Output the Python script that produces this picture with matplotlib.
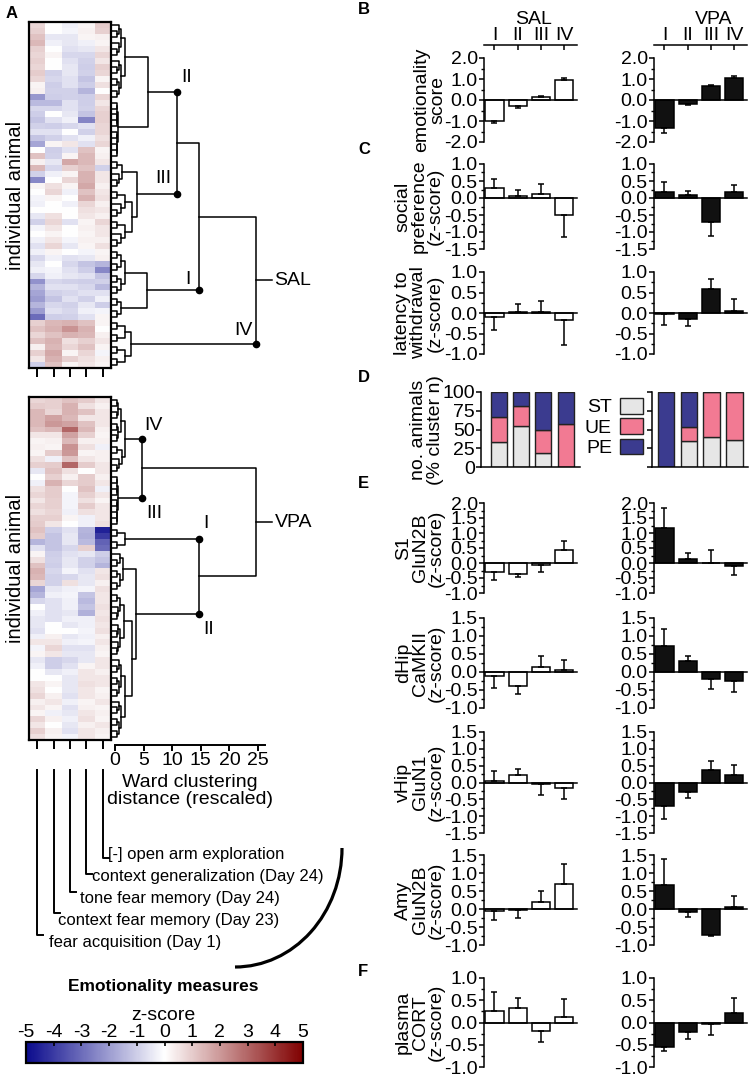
import numpy as np
import matplotlib.pyplot as plt
from matplotlib.colors import LinearSegmentedColormap
from matplotlib.ticker import FormatStrFormatter, FixedLocator
from matplotlib.patches import Arc

plt.rcParams['font.family'] = ['Liberation Sans', 'DejaVu Sans']
plt.rcParams['axes.unicode_minus'] = False

W, H = 749, 1079
TICK_FS = 14
LAB_FS = 14

clusters = ['I', 'II', 'III', 'IV']
measures = ['fear acquisition (Day 1)', 'context fear memory (Day 23)',
            'tone fear memory (Day 24)', 'context generalization (Day 24)',
            '[-] open arm exploration']

# z-scores per animal (rows, dendrogram order) x 5 emotionality measures
sal_heat = [
    [0.8, 0.0, -0.3, 0.2, 1.0], [0.9, 0.0, -0.2, 0.3, 0.9], [1.2, -0.5, -0.5, 0.2, 0.3],
    [1.4, -0.3, -0.5, -0.3, 0.2], [0.9, 0.0, -0.6, -0.5, 0.5], [0.8, 0.2, -0.8, -0.8, 0.8],
    [0.9, 0.0, -0.6, -0.9, 0.5], [0.8, 0.0, -0.5, -1.0, 0.9], [1.0, -0.9, -0.5, -0.9, 0.8],
    [0.8, -0.8, -0.6, -1.2, 0.2], [0.2, -1.0, -0.6, -1.0, 0.6], [0.3, -0.9, -0.9, -1.5, 0.0],
    [-2.1, -1.0, -0.9, -1.0, 0.8], [-1.4, -1.4, -0.6, -1.0, 0.5], [-0.8, -0.8, -0.6, -0.9, 0.8],
    [-1.0, 0.0, -0.5, -1.2, 0.9], [-1.2, -0.6, -0.3, -2.5, 0.9], [-0.9, -1.0, -0.8, -0.6, 0.8],
    [-0.6, -0.6, 0.0, -0.9, 0.8], [-1.2, -0.9, -0.6, -0.3, 0.6], [-1.8, 0.2, 0.5, -0.6, 0.8],
    [0.0, -1.0, -0.6, 1.2, 0.2], [1.2, -0.9, 0.2, 1.4, 0.3], [0.3, -0.5, 1.7, 1.4, 0.5],
    [1.4, -0.8, 0.9, 1.2, -0.9], [-0.9, -0.3, 0.2, 1.5, 0.5], [-2.4, 0.0, 0.8, 1.5, 0.5],
    [0.2, 0.6, 0.2, 1.7, 0.3], [0.0, 0.8, -0.3, 1.2, 0.5], [-0.2, 0.2, 0.0, 1.5, 0.6],
    [-0.3, 0.0, -0.3, 0.8, 0.3], [0.0, 0.0, 0.0, 0.6, 0.5], [-0.5, 0.6, 0.0, 0.5, 0.3],
    [-0.9, 0.8, -0.6, 0.2, 0.8], [-0.2, 0.5, 0.0, 0.3, 0.5], [0.0, 0.2, 0.0, 0.2, 0.5],
    [-0.3, 0.5, -0.2, 0.3, 0.3], [-0.6, 0.8, -0.5, 0.2, 0.6], [-0.3, 0.2, 0.0, -0.2, 0.2],
    [-0.8, -0.3, -0.6, -0.5, 0.3], [-0.5, 0.0, -0.8, -1.2, -1.5], [-0.3, -0.2, -0.6, -1.0, -2.4],
    [-0.8, -0.3, -0.5, -0.6, -1.2], [-2.2, -0.8, -0.9, -1.0, -0.9], [-1.5, -0.6, -0.6, -0.8, -1.4],
    [-1.8, -0.9, -0.8, -0.6, -0.6], [-2.0, -1.2, -0.6, -0.9, -0.3], [-1.5, -0.8, -0.9, -0.5, -1.0],
    [-2.0, -0.6, -0.8, -0.3, -0.2], [-3.0, -1.0, -0.9, -0.6, 0.2], [0.9, 1.4, 1.5, 1.2, 0.2],
    [1.2, 1.5, 2.1, 1.5, 0.0], [0.8, 1.2, 1.5, 1.4, 0.3], [1.2, 1.5, 0.6, 0.9, 0.5],
    [0.3, 1.4, 0.8, 1.2, 0.2], [0.9, 1.7, 0.2, 0.8, -0.2], [0.5, 1.5, 0.9, 0.6, 0.3],
    [-1.0, 1.2, 0.2, 0.5, 0.2],
]
vpa_heat = [
    [0.8, 0.9, 1.2, 1.0, 0.5], [1.0, 0.9, 1.5, 0.6, 0.3], [1.4, 0.8, 1.5, 1.2, 0.5],
    [1.4, 1.8, 1.4, 0.5, 0.5], [1.4, 2.0, 1.8, 1.2, 0.5], [1.2, 1.4, 3.0, 1.4, 0.3],
    [0.5, 0.5, 1.8, 0.9, 0.2], [0.2, 0.3, 1.4, 0.3, 0.3], [0.3, 0.2, 2.1, 0.6, -0.3],
    [0.2, 1.0, 2.0, 0.2, 0.3], [0.6, -0.3, 1.2, 0.5, 0.3], [0.9, 1.0, 3.0, 1.0, 0.5],
    [-0.5, 1.2, 0.6, 0.0, 0.5], [0.0, 0.9, 0.3, 1.0, 0.3], [-0.3, 1.5, 0.8, 1.0, 0.5],
    [0.6, 1.0, 0.0, 1.2, -0.3], [0.8, 1.0, -0.2, 0.9, 0.5], [0.5, 0.9, -0.2, 0.6, 0.2],
    [0.8, 0.9, -0.2, 1.0, 0.5], [0.6, 0.8, -0.3, 0.6, 0.5], [0.9, 0.9, 0.2, -0.3, 0.5],
    [1.0, 0.5, 0.0, -0.3, 0.6], [1.2, -1.0, -0.6, -1.5, -4.5], [1.0, -1.2, -0.5, -1.6, -4.0],
    [-1.5, -1.2, -0.5, -1.4, -3.2], [-0.6, -1.2, -0.8, 0.9, -3.0], [0.2, -1.0, -0.6, -0.5, -1.0],
    [0.6, -0.9, -0.5, -0.9, -1.2], [1.2, -1.0, -0.5, -0.9, -1.5], [1.5, -0.8, -0.2, -0.6, 0.5],
    [1.4, -0.9, -0.8, -0.5, 0.6], [0.8, -0.9, 0.6, -0.5, 0.3], [-1.8, -0.5, -0.3, -0.2, 0.6],
    [-1.5, -0.3, -0.2, -1.2, 0.5], [-0.8, -0.6, -0.3, -1.4, 0.5], [0.0, -0.6, -0.3, -1.2, 0.6],
    [-0.3, -0.6, -0.5, -1.6, 0.5], [-0.5, -0.6, -0.3, -0.3, 0.6], [-0.5, 0.0, -0.5, -0.3, 0.5],
    [-0.6, 0.0, 0.0, -0.2, 0.6], [-0.3, 0.3, -0.5, -0.3, 0.3], [0.5, 0.5, -0.3, -0.2, 0.5],
    [-0.2, 0.8, -0.6, -0.6, 0.3], [0.2, 0.5, -0.5, -0.5, 0.2], [-0.5, -1.0, -0.8, -0.5, 0.5],
    [-0.3, -1.0, -0.6, 0.2, 0.5], [0.0, -0.5, -0.3, 0.5, 0.3], [0.0, 0.0, -0.5, 0.5, 0.5],
    [0.5, 0.2, -0.5, 0.6, 0.5], [0.6, 0.0, -0.5, 0.5, 0.2], [0.8, 0.3, -0.6, 0.5, 0.3],
    [0.3, 0.5, -0.3, 0.2, 0.5], [0.5, 0.2, -0.6, 0.3, 0.2], [0.2, -0.3, -0.5, 0.5, 0.3],
    [0.8, 0.3, -0.3, 0.6, 0.2], [0.5, 0.0, -0.5, 0.3, 0.5], [0.9, 0.3, -0.6, 0.5, 0.3],
    [0.6, 0.2, -0.2, 0.5, 0.2],
]

# dendrogram: leaf blocks (first row, last row + 1, merge distance) and joins
sal_blocks = [(0, 13, 1.7), (13, 23, 0.5), (23, 28, 1.3), (28, 38, 3.0),
              (38, 46, 1.7), (46, 50, 1.0), (50, 58, 2.8)]
sal_joins = {'II': 5.8, 'III': 3.8, 'I': 5.6, 'II+III': 10.8, 'I+II+III': 14.7, 'all': 24.7}
vpa_blocks = [(0, 8, 1.0), (8, 13, 1.2), (13, 22, 0.5), (22, 26, 1.7),
              (26, 33, 1.4), (33, 44, 1.6), (44, 58, 1.7)]
vpa_joins = {'IV': 1.7, 'IIb': 3.0, 'II': 3.7, 'III+IV': 4.7, 'I+II': 14.7, 'all': 24.7}

# bar data: means and SEM per cluster I-IV
emo_sal, emo_sal_sem = [-1.0, -0.3, 0.15, 0.95], [0.1, 0.06, 0.05, 0.1]
emo_vpa, emo_vpa_sem = [-1.35, -0.2, 0.65, 1.05], [0.2, 0.05, 0.05, 0.1]
soc_sal, soc_sal_sem = [0.3, 0.05, 0.12, -0.5], [0.25, 0.2, 0.28, 0.65]
soc_vpa, soc_vpa_sem = [0.18, 0.08, -0.7, 0.18], [0.28, 0.14, 0.42, 0.2]
lat_sal, lat_sal_sem = [-0.1, 0.02, 0.03, -0.18], [0.32, 0.21, 0.27, 0.6]
lat_vpa, lat_vpa_sem = [-0.03, -0.15, 0.58, 0.05], [0.27, 0.17, 0.24, 0.28]
s1_sal, s1_sal_sem = [-0.3, -0.38, -0.05, 0.45], [0.25, 0.1, 0.25, 0.27]
s1_vpa, s1_vpa_sem = [1.18, 0.15, 0.0, -0.1], [0.67, 0.2, 0.42, 0.3]
dhip_sal, dhip_sal_sem = [-0.1, -0.4, 0.15, 0.05], [0.35, 0.2, 0.3, 0.28]
dhip_vpa, dhip_vpa_sem = [0.72, 0.3, -0.2, -0.25], [0.48, 0.15, 0.28, 0.3]
vhip_sal, vhip_sal_sem = [0.05, 0.22, -0.05, -0.15], [0.3, 0.18, 0.33, 0.35]
vhip_vpa, vhip_vpa_sem = [-0.7, -0.28, 0.38, 0.22], [0.38, 0.17, 0.27, 0.3]
amy_sal, amy_sal_sem = [-0.05, -0.03, 0.2, 0.7], [0.25, 0.22, 0.3, 0.55]
amy_vpa, amy_vpa_sem = [0.68, -0.08, -0.72, 0.05], [0.7, 0.14, 0.04, 0.3]
cort_sal, cort_sal_sem = [0.25, 0.32, -0.2, 0.12], [0.43, 0.23, 0.23, 0.4]
cort_vpa, cort_vpa_sem = [-0.55, -0.22, -0.03, 0.22], [0.1, 0.16, 0.25, 0.33]

# % of cluster n per coping style
st_sal, ue_sal, pe_sal = [33.3, 54.5, 18.8, 0], [33.3, 27.3, 31.2, 57.1], [33.4, 18.2, 50.0, 42.9]
st_vpa, ue_vpa, pe_vpa = [0, 35.3, 40.0, 36.4], [0, 17.6, 60.0, 63.6], [100, 47.1, 0, 0]

fig = plt.figure(figsize=(W / 100, H / 100), dpi=100)


def add_px(x0, y0, x1, y1):
    return fig.add_axes([x0 / W, 1 - y1 / H, (x1 - x0) / W, (y1 - y0) / H])


ov = add_px(0, 0, W, H)
ov.set_xlim(0, W)
ov.set_ylim(H, 0)
ov.axis('off')

cmap = LinearSegmentedColormap.from_list('zs', [(0.04, 0.04, 0.55), (1, 1, 1), (0.5, 0, 0)])

LEAF_X = -0.6
PX_PER_UNIT = 5.72
D0 = 115


def block(lo, hi, top):
    if hi - lo == 1:
        return lo
    if hi - lo == 2:
        return (lo, lo + 1, 0.3)
    mid = (lo + hi) // 2
    sub = max(0.3, top * 0.6)
    return (block(lo, mid, sub), block(mid, hi, sub), top)


def ypos(node):
    if isinstance(node, int):
        return node + 0.5
    return (ypos(node[0]) + ypos(node[1])) / 2


def draw_tree(ax, node):
    if isinstance(node, int):
        return node + 0.5, LEAF_X
    y1, x1 = draw_tree(ax, node[0])
    y2, x2 = draw_tree(ax, node[1])
    h = node[2]
    ax.plot([x1, h, h, x2], [y1, y1, y2, y2], color='k', lw=1.1, clip_on=False)
    return (y1 + y2) / 2, h


def heat_block(y0, y1, data, root, cuts, name):
    arr = np.array(data)
    n = arr.shape[0]
    ax = add_px(29, y0, 111, y1)
    ax.imshow(arr, cmap=cmap, vmin=-5, vmax=5, aspect='auto', interpolation='nearest',
              extent=(0, 5, n, 0))
    ax.set_xlim(0, 5)
    ax.set_ylim(n, 0)
    ax.set_xticks(np.arange(5) + 0.5)
    ax.set_xticklabels([])
    ax.set_yticks([])
    ax.tick_params(axis='x', length=6.5, width=1.4, direction='out')
    for s in ax.spines.values():
        s.set_linewidth(1.6)
    ax.text(-0.17, 0.5, 'individual animal', transform=ax.transAxes, rotation=90,
            ha='center', va='center', fontsize=14.5)

    da = add_px(111, y0, 300, y1)
    da.set_xlim((111 - D0) / PX_PER_UNIT, (300 - D0) / PX_PER_UNIT)
    da.set_ylim(n, 0)
    da.axis('off')
    yr, hr = draw_tree(da, root)
    da.plot([hr, hr + 2.8], [yr, yr], color='k', lw=1.1)
    da.text(hr + 3.2, yr, name, ha='left', va='center', fontsize=LAB_FS)
    for lab, node, h, dx, dy in cuts:
        y = ypos(node)
        da.plot([h], [y], 'o', color='k', ms=4.5, clip_on=False)
        da.annotate(lab, (h, y), xytext=(dx, dy), textcoords='offset points',
                    ha='center', va='center', fontsize=LAB_FS)


# SAL tree
b = [block(*x) for x in sal_blocks]
sal_II = (b[0], b[1], sal_joins['II'])
sal_III = (b[2], b[3], sal_joins['III'])
sal_I = (b[4], b[5], sal_joins['I'])
sal_IV = b[6]
sal_root = (((sal_II, sal_III, sal_joins['II+III']), sal_I, sal_joins['I+II+III']),
            sal_IV, sal_joins['all'])
heat_block(22, 368, sal_heat, sal_root,
           [('II', sal_II, sal_joins['II+III'], 7, 11),
            ('III', sal_III, sal_joins['II+III'], -10, 11),
            ('I', sal_I, sal_joins['I+II+III'], -8, 8),
            ('IV', sal_IV, sal_joins['all'], -9, 10)], 'SAL')

# VPA tree
b = [block(*x) for x in vpa_blocks]
vpa_IV = (b[0], b[1], vpa_joins['IV'])
vpa_III = b[2]
vpa_I = b[3]
vpa_II = (b[4], (b[5], b[6], vpa_joins['IIb']), vpa_joins['II'])
vpa_root = ((vpa_IV, vpa_III, vpa_joins['III+IV']), (vpa_I, vpa_II, vpa_joins['I+II']),
            vpa_joins['all'])
heat_block(397, 740, vpa_heat, vpa_root,
           [('IV', vpa_IV, vpa_joins['III+IV'], 8, 9.5),
            ('III', vpa_III, vpa_joins['III+IV'], 9, -11),
            ('I', vpa_I, vpa_joins['I+II'], 5, 11),
            ('II', vpa_II, vpa_joins['I+II'], 7, -11)], 'VPA')

# distance axis
dx = add_px(D0, 735, 265, 745)
dx.set_xlim(0, 150 / PX_PER_UNIT)
dx.patch.set_alpha(0)
for s in ['left', 'right', 'top']:
    dx.spines[s].set_visible(False)
dx.spines['bottom'].set_linewidth(1.4)
dx.set_yticks([])
dx.set_xticks([0, 5, 10, 15, 20, 25])
dx.tick_params(axis='x', length=4, width=1.4, labelsize=TICK_FS, pad=1)
ov.text(190, 791, 'Ward clustering\ndistance (rescaled)', ha='center', va='center',
        fontsize=LAB_FS, linespacing=0.95)

# emotionality measure leaders
col_x = 29 + (np.arange(5) + 0.5) * 82 / 5
end_y = [935, 913, 892, 874, 858]
txt_x = [49, 58, 80, 92, 108]
txt_y = [942, 920, 898, 876, 854]
for i in range(5):
    ov.plot([col_x[i], col_x[i], col_x[i] + 6], [770, end_y[i], end_y[i]], color='k', lw=1.4)
    ov.text(txt_x[i], txt_y[i], measures[i], ha='left', va='center', fontsize=12)
ov.add_patch(Arc((235, 848), 214, 238, theta1=0, theta2=90, lw=2.3, color='k'))
ov.text(163, 986, 'Emotionality measures', ha='center', va='center', fontsize=12.5,
        fontweight='bold')

# colorbar
cax = add_px(26, 1042, 303, 1063)
sm = plt.cm.ScalarMappable(cmap=cmap, norm=plt.Normalize(-5, 5))
cb = fig.colorbar(sm, cax=cax, orientation='horizontal', ticks=range(-5, 6))
cax.xaxis.set_ticks_position('top')
cax.tick_params(axis='x', direction='in', length=3, width=1.2, labelsize=TICK_FS, pad=1)
cb.outline.set_linewidth(1.6)
ov.text(163, 1015, 'z-score', ha='center', va='center', fontsize=LAB_FS)

# bar panels
SAL_X, VPA_X, AX_W = 484, 654, 93


def bar_panel(x0, ytop, ybot, lo, hi, step, vals, sem, fill, top=None):
    ymax = hi if top is None else top
    ax = add_px(x0, ytop if top is None else ytop - (top - hi) * (ybot - ytop) / (hi - lo),
                x0 + AX_W, ybot)
    x = np.arange(4)
    ax.bar(x, vals, width=0.78, color=fill, edgecolor='k', lw=1.1, zorder=2)
    lower = [s if v < 0 else 0 for v, s in zip(vals, sem)]
    upper = [s if v >= 0 else 0 for v, s in zip(vals, sem)]
    ax.errorbar(x, vals, yerr=[lower, upper], fmt='none', ecolor='k', elinewidth=1.1,
                capsize=2.5, capthick=1.1, zorder=3, clip_on=False)
    ax.set_xlim(-0.45, 3.55)
    ax.set_ylim(lo, ymax)
    ax.patch.set_alpha(0)
    ax.spines['right'].set_visible(False)
    ax.spines['top'].set_visible(top is not None)
    ax.spines['bottom'].set_position(('data', 0))
    ax.spines['left'].set_bounds(lo, hi)
    for s in ax.spines.values():
        s.set_linewidth(1.1)
    ax.yaxis.set_major_locator(FixedLocator(np.arange(lo, hi + 1e-9, step)))
    ax.yaxis.set_minor_locator(FixedLocator(np.arange(lo, hi + 1e-9, step / 2)))
    ax.yaxis.set_major_formatter(FormatStrFormatter('%.1f'))
    ax.tick_params(axis='y', which='major', length=3.5, width=1.1, labelsize=TICK_FS, pad=1)
    ax.tick_params(axis='y', which='minor', length=2, width=1)
    if top is None:
        ax.set_xticks([])
    else:
        ax.xaxis.set_ticks_position('top')
        ax.set_xticks(x)
        ax.set_xticklabels(clusters)
        ax.tick_params(axis='x', direction='in', length=3.5, width=1.1, labelsize=TICK_FS, pad=0.5)
    return ax


panels = [
    ('emotionality\nscore', 58, 142, -2.0, 2.0, 1.0, emo_sal, emo_sal_sem, emo_vpa, emo_vpa_sem, 430, 2.62),
    ('social\npreference\n(z-score)', 164, 249, -1.5, 1.0, 0.5, soc_sal, soc_sal_sem, soc_vpa, soc_vpa_sem, 419, None),
    ('latency to\nwithdrawal\n(z-score)', 272, 354, -1.0, 1.0, 0.5, lat_sal, lat_sal_sem, lat_vpa, lat_vpa_sem, 419, None),
    ('S1\nGluN2B\n(z-score)', 503, 593, -1.0, 2.0, 0.5, s1_sal, s1_sal_sem, s1_vpa, s1_vpa_sem, 420, None),
    ('dHip\nCaMKII\n(z-score)', 618, 708, -1.0, 1.5, 0.5, dhip_sal, dhip_sal_sem, dhip_vpa, dhip_vpa_sem, 420, None),
    ('vHip\nGluN1\n(z-score)', 732, 833, -1.5, 1.5, 0.5, vhip_sal, vhip_sal_sem, vhip_vpa, vhip_vpa_sem, 420, None),
    ('Amy\nGluN2B\n(z-score)', 855, 945, -1.0, 1.5, 0.5, amy_sal, amy_sal_sem, amy_vpa, amy_vpa_sem, 420, None),
    ('plasma\nCORT\n(z-score)', 978, 1067, -1.0, 1.0, 0.5, cort_sal, cort_sal_sem, cort_vpa, cort_vpa_sem, 420, None),
]
for lab, yt, yb, lo, hi, st, vs, es, vv, ev, lx, top in panels:
    bar_panel(SAL_X, yt, yb, lo, hi, st, vs, es, 'white', top)
    bar_panel(VPA_X, yt, yb, lo, hi, st, vv, ev, '#111111', top)
    ov.text(lx, (yt + yb) / 2, lab, rotation=90, ha='center', va='center', fontsize=LAB_FS,
            linespacing=0.95, multialignment='center')

ov.text(534, 20, 'SAL', ha='center', va='center', fontsize=LAB_FS)
ov.text(714, 20, 'VPA', ha='center', va='center', fontsize=LAB_FS)

# stacked bars (panel D)
st_col, ue_col, pe_col = '#e6e6e6', '#f27a93', '#3b3b8f'


def stack_panel(x0, x1, xlim, st, ue, pe, show):
    ax = add_px(x0, 392, x1, 467)
    x = np.arange(4)
    st, ue, pe = np.array(st), np.array(ue), np.array(pe)
    kw = dict(width=0.72, edgecolor='#222222', lw=1.0, zorder=2)
    h1 = ax.bar(x, st, color=st_col, **kw)
    h2 = ax.bar(x, ue, bottom=st, color=ue_col, **kw)
    h3 = ax.bar(x, pe, bottom=st + ue, color=pe_col, **kw)
    ax.set_xlim(*xlim)
    ax.set_ylim(0, 100)
    ax.patch.set_alpha(0)
    ax.spines['right'].set_visible(False)
    ax.spines['top'].set_visible(False)
    for s in ax.spines.values():
        s.set_linewidth(1.1)
    ax.set_xticks([])
    ax.set_yticks([0, 25, 50, 75, 100])
    if not show:
        ax.set_yticklabels([])
    ax.tick_params(axis='y', length=3.5, width=1.1, labelsize=TICK_FS, pad=1)
    return ax, (h1, h2, h3)


axd, hd = stack_panel(481, 580, (-0.8, 3.65), st_sal, ue_sal, pe_sal, True)
stack_panel(652, 748, (-0.62, 3.6), st_vpa, ue_vpa, pe_vpa, False)
axd.legend(hd, ['ST', 'UE', 'PE'], markerfirst=False, frameon=False, loc='upper left',
           bbox_to_anchor=(585 / W, 1 - 398 / H), bbox_transform=fig.transFigure,
           handlelength=1.2, handleheight=0.85, labelspacing=0.1, handletextpad=0.4,
           fontsize=TICK_FS, borderpad=0, borderaxespad=0)
ov.text(427, 430, 'no. animals\n(% cluster n)', rotation=90, ha='center', va='center',
        fontsize=LAB_FS, linespacing=0.95, multialignment='center')

# panel letters
for letter, x, y in [('A', 6, 14), ('B', 358, 10), ('C', 358, 150), ('D', 358, 378),
                     ('E', 358, 483), ('F', 358, 972)]:
    ov.text(x, y, letter, ha='left', va='center', fontsize=12, fontweight='bold')

fig.savefig('out.png', dpi=100)
